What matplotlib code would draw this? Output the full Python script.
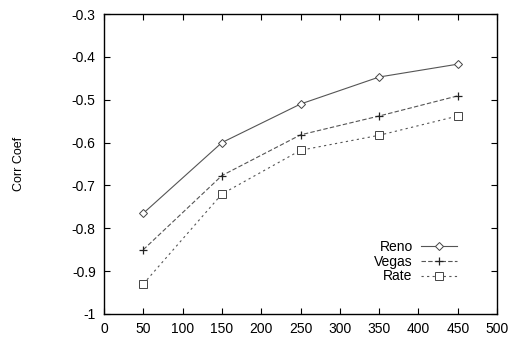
import matplotlib.pyplot as plt

plt.rcParams['font.family'] = ['Liberation Sans', 'DejaVu Sans']

# data
x_vals = [50, 150, 250, 350, 450]
reno = [-0.765, -0.600, -0.510, -0.447, -0.417]
vegas = [-0.850, -0.677, -0.582, -0.538, -0.491]
rate = [-0.930, -0.720, -0.618, -0.583, -0.538]

fig = plt.figure(figsize=(5.2, 3.42), dpi=100)
ax = fig.add_axes([0.2, 0.082, 0.756, 0.877])

ax.plot(x_vals, reno, color='#555555', lw=0.8, ls='-', marker='D', ms=4.5,
        mfc='white', mec='#444444', mew=0.7, label='Reno')
ax.plot(x_vals, vegas, color='#555555', lw=0.8, ls=(0, (4, 2)), marker='+', ms=6,
        mec='#222222', mew=0.9, label='Vegas')
ax.plot(x_vals, rate, color='#555555', lw=0.8, ls=(0, (2, 3)), marker='s', ms=5.5,
        mfc='white', mec='#444444', mew=0.7, label='Rate')

ax.set_xlim(0, 500)
ax.set_ylim(-1, -0.3)
ax.set_xticks(range(0, 501, 50))
ax.set_yticks([-1, -0.9, -0.8, -0.7, -0.6, -0.5, -0.4, -0.3])
ax.set_yticklabels(['-1', '-0.9', '-0.8', '-0.7', '-0.6', '-0.5', '-0.4', '-0.3'])
ax.tick_params(direction='in', top=True, right=True, length=4, width=0.8,
               labelsize=10, pad=6)
for s in ax.spines.values():
    s.set_linewidth(1.0)

ax.set_ylabel('Corr Coef', fontsize=9, labelpad=34)

ax.legend(loc='lower right', frameon=False, markerfirst=False, fontsize=10,
          handlelength=2.6, handletextpad=0.6, labelspacing=0.05,
          bbox_to_anchor=(0.93, 0.06))

fig.savefig('out.png', dpi=100)
